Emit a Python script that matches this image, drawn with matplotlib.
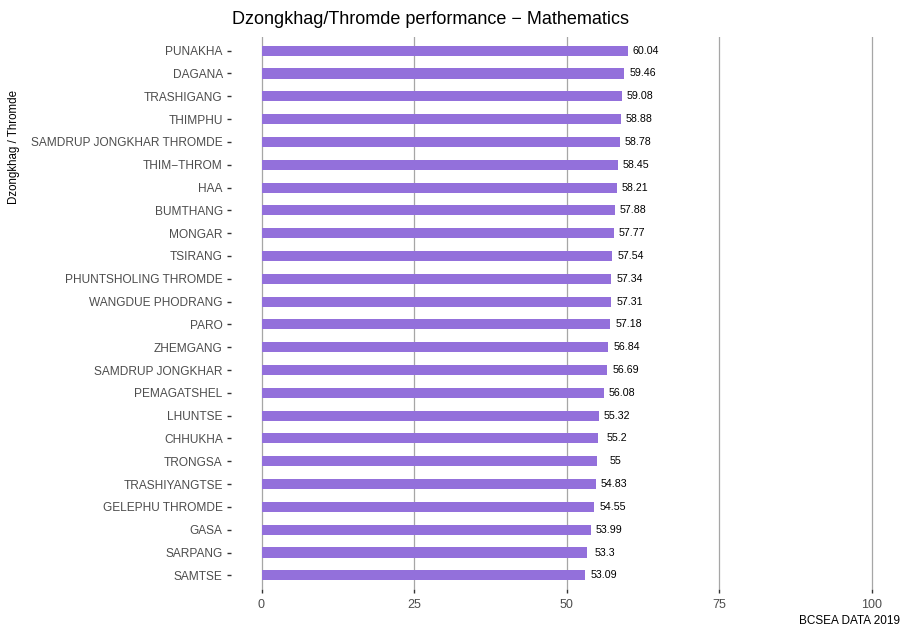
import matplotlib
matplotlib.use("Agg")
import matplotlib.pyplot as plt

# Mathematics mean score by Dzongkhag/Thromde (BCSEA 2019)
districts = [
    "PUNAKHA", "DAGANA", "TRASHIGANG", "THIMPHU", "SAMDRUP JONGKHAR THROMDE",
    "THIM\u2212THROM", "HAA", "BUMTHANG", "MONGAR", "TSIRANG",
    "PHUNTSHOLING THROMDE", "WANGDUE PHODRANG", "PARO", "ZHEMGANG",
    "SAMDRUP JONGKHAR", "PEMAGATSHEL", "LHUNTSE", "CHHUKHA", "TRONGSA",
    "TRASHIYANGTSE", "GELEPHU THROMDE", "GASA", "SARPANG", "SAMTSE",
]
scores = [
    60.04, 59.46, 59.08, 58.88, 58.78, 58.45, 58.21, 57.88, 57.77, 57.54,
    57.34, 57.31, 57.18, 56.84, 56.69, 56.08, 55.32, 55.2, 55,
    54.83, 54.55, 53.99, 53.3, 53.09,
]
x_ticks = [0, 25, 50, 75, 100]

plt.rcParams["font.family"] = ["Liberation Sans", "DejaVu Sans"]

fig = plt.figure(figsize=(9.02, 6.28), dpi=100)
ax = fig.add_axes([231 / 902, 1 - 589 / 628, (902 - 231) / 902, (589 - 37) / 628])

n = len(districts)
pos = list(range(n - 1, -1, -1))  # top row first

ax.barh(pos, scores, height=0.44, color="#9370DB", zorder=3)
for p, s in zip(pos, scores):
    ax.text(s + 3, p, f"{s:g}", ha="center", va="center", fontsize=7.7,
            color="black", zorder=4)

ax.set_xlim(-5, 105)
ax.set_ylim(-0.6, n - 0.4)
ax.set_xticks(x_ticks)
ax.set_xticklabels([str(t) for t in x_ticks])
ax.set_yticks(pos)
ax.set_yticklabels(districts)

for t in x_ticks:
    ax.axvline(t, color="#a6a6a6", linewidth=0.9, zorder=1)

for sp in ax.spines.values():
    sp.set_visible(False)
ax.tick_params(axis="both", colors="#333333", labelcolor="#4d4d4d",
               length=3, width=1)
ax.tick_params(axis="y", pad=3, labelsize=8.6)
ax.tick_params(axis="x", pad=4, labelsize=9)

fig.text(430 / 902, 1 - 20 / 628, "Dzongkhag/Thromde performance \u2212 Mathematics",
         ha="center", va="center", fontsize=13, color="black")
fig.text(14 / 902, 1 - 147 / 628, "Dzongkhag / Thromde", rotation=90,
         ha="center", va="center", fontsize=8.3, color="black")
fig.text(900 / 902, 1 - 621 / 628, "BCSEA DATA 2019", ha="right", va="center",
         fontsize=8.5, color="black")

fig.savefig("out.png", dpi=100)
